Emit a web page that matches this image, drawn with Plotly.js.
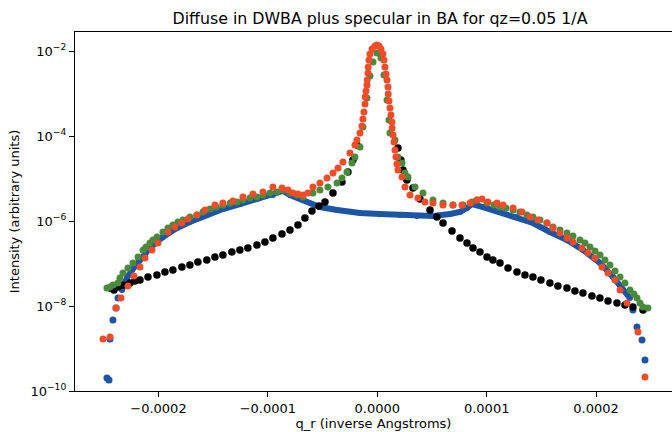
<!DOCTYPE html>
<html>
<head>
<meta charset="utf-8">
<script src="https://cdn.plot.ly/plotly-3.0.1.min.js"></script>
<style>html,body{margin:0;padding:0;background:#fff;}#chart{width:672px;height:432px;}</style>
</head>
<body>
<div id="chart"></div>
<script>
// ---------- data ----------
const titleText = 'Diffuse in DWBA plus specular in BA for qz=0.05 1/A';
const xLabel = 'q_r (inverse Angstroms)';
const yLabel = 'Intensity (arbitrary units)';

const xTickVals = [-0.0002, -0.0001, 0, 0.0001, 0.0002];
const xTickText = ['\u22120.0002', '\u22120.0001', '0.0000', '0.0001', '0.0002'];
const yTickVals = [1e-10, 1e-8, 1e-6, 1e-4, 1e-2];
const yTickText = ['10<sup>\u221210</sup>', '10<sup>\u22128</sup>', '10<sup>\u22126</sup>', '10<sup>\u22124</sup>', '10<sup>\u22122</sup>'];

// blue model: steep tails (separate dots) and the dense band
const blueTailX = [-2.471e-4, -2.452e-4, -2.443e-4, -2.416e-4, -2.388e-4, -2.370e-4, 2.337e-4, 2.374e-4, 2.420e-4, 2.447e-4];
const blueTailY = [2.02e-10, 1.82e-10, 1.67e-9, 4.69e-9, 8.97e-9, 1.54e-8, 8.05e-9, 3.21e-9, 1.58e-9, 5.36e-10];
const blueX = [-2.334e-4, -2.288e-4, -2.242e-4, -2.169e-4, -2.078e-4, -1.959e-4, -1.831e-4, -1.713e-4, -1.557e-4, -1.411e-4, -1.255e-4, -1.100e-4, -9.54e-5, -8.62e-5, -7.98e-5, -6.79e-5, -5.24e-5, -3.68e-5, -1.58e-5, 2.5e-6, 2.07e-5, 3.63e-5, 5.09e-5, 6.65e-5, 7.56e-5, 8.20e-5, 8.66e-5, 9.66e-5, 1.122e-4, 1.277e-4, 1.423e-4, 1.578e-4, 1.734e-4, 1.880e-4, 2.036e-4, 2.155e-4, 2.246e-4, 2.310e-4];
const blueY = [2.38e-8, 4.56e-8, 7.03e-8, 1.21e-7, 2.32e-7, 4.20e-7, 6.84e-7, 9.46e-7, 1.38e-6, 1.91e-6, 2.51e-6, 3.30e-6, 4.09e-6, 5.08e-6, 4.09e-6, 3.12e-6, 2.13e-6, 1.82e-6, 1.54e-6, 1.46e-6, 1.38e-6, 1.31e-6, 1.31e-6, 1.46e-6, 1.63e-6, 2.02e-6, 2.51e-6, 2.13e-6, 1.63e-6, 1.24e-6, 8.97e-7, 5.51e-7, 3.57e-7, 2.08e-7, 1.03e-7, 4.81e-8, 2.38e-8, 1.54e-8];

const blackX = [-2.443e-4, -2.407e-4, -2.370e-4, -2.325e-4, -2.261e-4, -2.215e-4, -2.169e-4, -2.096e-4, -2.014e-4, -1.941e-4, -1.868e-4, -1.786e-4, -1.713e-4, -1.640e-4, -1.558e-4, -1.484e-4, -1.411e-4, -1.329e-4, -1.256e-4, -1.183e-4, -1.100e-4, -1.027e-4, -9.54e-5, -8.71e-5, -7.98e-5, -7.25e-5, -6.61e-5, -5.97e-5, -5.33e-5, -4.78e-5, -4.05e-5, -3.23e-5, -2.68e-5, -2.23e-5, -1.86e-5, 1.89e-5, 2.16e-5, 2.35e-5, 2.71e-5, 3.26e-5, 3.90e-5, 4.82e-5, 5.45e-5, 6.01e-5, 6.83e-5, 7.56e-5, 8.20e-5, 8.75e-5, 9.39e-5, 1.003e-4, 1.057e-4, 1.122e-4, 1.195e-4, 1.277e-4, 1.350e-4, 1.423e-4, 1.496e-4, 1.578e-4, 1.651e-4, 1.734e-4, 1.807e-4, 1.880e-4, 1.962e-4, 2.035e-4, 2.109e-4, 2.191e-4, 2.264e-4, 2.337e-4, 2.429e-4];
const blackY = [2.65e-8, 2.38e-8, 2.80e-8, 3.12e-8, 3.47e-8, 3.87e-8, 4.09e-8, 4.81e-8, 5.36e-8, 6.31e-8, 7.03e-8, 8.28e-8, 9.22e-8, 1.08e-7, 1.21e-7, 1.42e-7, 1.58e-7, 1.87e-7, 2.08e-7, 2.32e-7, 2.72e-7, 3.21e-7, 3.98e-7, 4.94e-7, 6.14e-7, 8.05e-7, 1.18e-6, 1.72e-6, 2.25e-6, 2.80e-6, 4.56e-6, 8.28e-6, 1.42e-5, 2.72e-5, 6.14e-5, 5.22e-5, 2.72e-5, 1.58e-5, 9.22e-6, 5.97e-6, 3.30e-6, 1.82e-6, 1.24e-6, 8.97e-7, 5.82e-7, 3.98e-7, 3.04e-7, 2.32e-7, 1.87e-7, 1.42e-7, 1.21e-7, 1.03e-7, 7.83e-8, 6.31e-8, 5.36e-8, 4.81e-8, 4.09e-8, 3.47e-8, 2.96e-8, 2.65e-8, 2.25e-8, 2.02e-8, 1.72e-8, 1.54e-8, 1.31e-8, 1.18e-8, 1.06e-8, 9.46e-9, 8.05e-9];

const greenX = [-2.471e-4, -2.443e-4, -2.416e-4, -2.370e-4, -2.352e-4, -2.325e-4, -2.279e-4, -2.233e-4, -2.187e-4, -2.141e-4, -2.114e-4, -2.078e-4, -2.050e-4, -2.014e-4, -1.959e-4, -1.913e-4, -1.868e-4, -1.822e-4, -1.776e-4, -1.712e-4, -1.649e-4, -1.594e-4, -1.530e-4, -1.472e-4, -1.411e-4, -1.344e-4, -1.283e-4, -1.228e-4, -1.164e-4, -1.100e-4, -1.045e-4, -9.81e-5, -9.17e-5, -8.62e-5, -7.98e-5, -7.34e-5, -6.79e-5, -5.88e-5, -5.24e-5, -4.51e-5, -3.68e-5, -3.23e-5, -2.77e-5, -2.31e-5, -2.04e-5, -1.58e-5, -1.31e-5, -9.4e-6, -6.7e-6, -3.9e-6, -3e-7, 3.4e-6, 6.1e-6, 8.9e-6, 1.07e-5, 1.16e-5, 1.62e-5, 1.89e-5, 2.26e-5, 2.53e-5, 2.81e-5, 3.45e-5, 4.18e-5, 5.09e-5, 6.01e-5, 6.92e-5, 7.83e-5, 8.66e-5, 9.11e-5, 1.003e-4, 1.067e-4, 1.122e-4, 1.176e-4, 1.241e-4, 1.304e-4, 1.368e-4, 1.423e-4, 1.487e-4, 1.551e-4, 1.606e-4, 1.670e-4, 1.734e-4, 1.789e-4, 1.853e-4, 1.899e-4, 1.944e-4, 1.990e-4, 2.036e-4, 2.081e-4, 2.127e-4, 2.173e-4, 2.219e-4, 2.264e-4, 2.310e-4, 2.346e-4, 2.374e-4, 2.401e-4, 2.429e-4, 2.474e-4];
const greenY = [2.65e-8, 2.80e-8, 3.12e-8, 3.47e-8, 4.56e-8, 5.97e-8, 7.83e-8, 1.03e-7, 1.42e-7, 2.08e-7, 2.44e-7, 3.04e-7, 3.57e-7, 4.20e-7, 5.51e-7, 6.84e-7, 8.05e-7, 9.46e-7, 1.06e-6, 1.24e-6, 1.38e-6, 1.63e-6, 1.91e-6, 2.13e-6, 2.38e-6, 2.65e-6, 2.80e-6, 3.12e-6, 3.48e-6, 3.67e-6, 4.09e-6, 4.56e-6, 4.81e-6, 5.36e-6, 4.56e-6, 4.09e-6, 3.67e-6, 4.56e-6, 5.36e-6, 6.31e-6, 7.83e-6, 1.03e-5, 1.42e-5, 2.32e-5, 3.21e-5, 5.51e-5, 1.63e-4, 7.83e-4, 2.58e-3, 5.51e-3, 8.97e-3, 6.84e-3, 2.72e-3, 7.03e-4, 2.38e-4, 1.18e-4, 8.05e-5, 3.21e-5, 2.32e-5, 1.35e-5, 1.08e-5, 6.31e-6, 4.56e-6, 3.12e-6, 2.65e-6, 2.38e-6, 2.38e-6, 2.80e-6, 3.12e-6, 2.65e-6, 2.38e-6, 2.13e-6, 2.02e-6, 1.82e-6, 1.63e-6, 1.38e-6, 1.24e-6, 1.06e-6, 8.97e-7, 7.23e-7, 6.14e-7, 5.22e-7, 4.44e-7, 3.57e-7, 3.04e-7, 2.44e-7, 1.97e-7, 1.58e-7, 1.21e-7, 9.22e-8, 6.67e-8, 4.81e-8, 3.47e-8, 2.38e-8, 1.91e-8, 1.54e-8, 1.18e-8, 9.46e-9, 8.97e-9];

const redX = [-2.507e-4, -2.443e-4, -2.388e-4, -2.343e-4, -2.279e-4, -2.224e-4, -2.169e-4, -2.123e-4, -2.059e-4, -2.005e-4, -1.913e-4, -1.850e-4, -1.786e-4, -1.731e-4, -1.649e-4, -1.575e-4, -1.484e-4, -1.411e-4, -1.320e-4, -1.228e-4, -1.137e-4, -1.045e-4, -9.54e-5, -8.71e-5, -8.16e-5, -7.71e-5, -7.25e-5, -6.79e-5, -6.34e-5, -5.88e-5, -5.24e-5, -4.60e-5, -4.05e-5, -3.59e-5, -3.14e-5, -2.50e-5, -2.04e-5, -1.86e-5, -1.58e-5, -1.40e-5, -1.31e-5, -1.22e-5, -1.12e-5, -1.10e-5, -1.03e-5, -9.4e-6, -9.2e-6, -8.5e-6, -8.3e-6, -7.6e-6, -6.7e-6, -4.8e-6, -2.1e-6, -3e-7, 1.6e-6, 3.4e-6, 5.2e-6, 6.1e-6, 7.0e-6, 8.0e-6, 8.9e-6, 9.8e-6, 1.0e-5, 1.07e-5, 1.16e-5, 1.25e-5, 1.34e-5, 1.36e-5, 1.44e-5, 1.53e-5, 1.62e-5, 1.71e-5, 1.80e-5, 1.89e-5, 2.26e-5, 2.53e-5, 2.99e-5, 3.72e-5, 4.36e-5, 5.09e-5, 6.01e-5, 6.92e-5, 7.74e-5, 8.48e-5, 9.11e-5, 9.57e-5, 1.012e-4, 1.094e-4, 1.149e-4, 1.241e-4, 1.323e-4, 1.396e-4, 1.469e-4, 1.551e-4, 1.606e-4, 1.670e-4, 1.734e-4, 1.789e-4, 1.871e-4, 1.926e-4, 1.990e-4, 2.054e-4, 2.109e-4, 2.173e-4, 2.219e-4, 2.283e-4, 2.383e-4, 2.447e-4];
const redY = [1.67e-9, 1.87e-9, 8.97e-9, 1.54e-8, 2.96e-8, 5.08e-8, 8.28e-8, 1.35e-7, 2.08e-7, 3.04e-7, 5.51e-7, 7.23e-7, 8.97e-7, 1.11e-6, 1.38e-6, 1.82e-6, 2.38e-6, 2.65e-6, 2.96e-6, 3.67e-6, 4.32e-6, 4.81e-6, 6.31e-6, 5.97e-6, 5.36e-6, 4.56e-6, 4.32e-6, 4.09e-6, 4.56e-6, 6.31e-6, 7.83e-6, 1.03e-5, 1.35e-5, 1.77e-5, 2.44e-5, 3.98e-5, 6.14e-5, 8.05e-5, 1.18e-4, 1.72e-4, 2.51e-4, 3.67e-4, 5.66e-4, 8.27e-4, 1.15e-3, 1.58e-3, 2.08e-3, 3.04e-3, 4.20e-3, 6.14e-3, 8.50e-3, 1.12e-2, 1.31e-2, 1.38e-2, 1.31e-2, 1.12e-2, 8.50e-3, 6.14e-3, 4.20e-3, 2.88e-3, 2.08e-3, 1.42e-3, 9.73e-4, 6.66e-4, 4.56e-4, 3.12e-4, 2.14e-4, 1.54e-4, 1.06e-4, 7.22e-5, 4.68e-5, 3.21e-5, 2.19e-5, 1.58e-5, 1.08e-5, 6.31e-6, 4.09e-6, 3.48e-6, 2.80e-6, 2.65e-6, 2.38e-6, 2.38e-6, 2.38e-6, 2.65e-6, 3.12e-6, 3.30e-6, 2.80e-6, 2.65e-6, 2.38e-6, 2.02e-6, 1.63e-6, 1.24e-6, 1.06e-6, 8.97e-7, 6.84e-7, 5.22e-7, 3.98e-7, 3.21e-7, 2.32e-7, 1.77e-7, 1.35e-7, 8.28e-8, 5.97e-8, 4.09e-8, 2.38e-8, 1.18e-8, 2.44e-9, 2.13e-10];

// ---------- styles ----------
const cBlue = '#1d55a6', cBlack = '#000000', cGreen = '#4a8a3c', cRed = '#f04c28';
const mSize = 7;

const traces = [
  {x: blueTailX, y: blueTailY, mode: 'markers', type: 'scatter', marker: {color: cBlue, size: mSize}, hoverinfo: 'skip'},
  {x: blueX, y: blueY, mode: 'lines+markers', type: 'scatter', line: {color: cBlue, width: 6}, marker: {color: cBlue, size: 6}, hoverinfo: 'skip'},
  {x: blackX, y: blackY, mode: 'markers', type: 'scatter', marker: {color: cBlack, size: 7.5}, hoverinfo: 'skip'},
  {x: greenX, y: greenY, mode: 'markers', type: 'scatter', marker: {color: cGreen, size: mSize}, hoverinfo: 'skip'},
  {x: redX, y: redY, mode: 'markers', type: 'scatter', marker: {color: cRed, size: mSize}, hoverinfo: 'skip'}
];

const axisCommon = {
  showgrid: false, zeroline: false, showline: true, linecolor: '#000', linewidth: 1.2,
  ticks: 'outside', ticklen: 5, tickwidth: 1, tickcolor: '#000',
  tickfont: {family: 'DejaVu Sans', size: 13, color: '#000'}
};

const layout = {
  width: 672, height: 432,
  margin: {l: 75, r: 0, t: 32, b: 41, pad: 0},
  paper_bgcolor: '#fff', plot_bgcolor: '#fff',
  showlegend: false,
  font: {family: 'DejaVu Sans', size: 13, color: '#000'},
  title: {text: titleText, font: {family: 'DejaVu Sans', size: 15.8, color: '#000'},
          xref: 'container', x: 380 / 672, xanchor: 'center',
          yref: 'container', y: 1 - 18 / 432, yanchor: 'middle'},
  xaxis: Object.assign({}, axisCommon, {
    range: [-2.763e-4, 2.694e-4], mirror: true,
    tickmode: 'array', tickvals: xTickVals, ticktext: xTickText,
    title: {text: xLabel, font: {family: 'DejaVu Sans', size: 13, color: '#000'}, standoff: 3}
  }),
  yaxis: Object.assign({}, axisCommon, {
    type: 'log', range: [-10, -1.553],
    tickmode: 'array', tickvals: yTickVals, ticktext: yTickText,
    title: {text: yLabel, font: {family: 'DejaVu Sans', size: 13, color: '#000'}, standoff: 8}
  })
};

Plotly.newPlot('chart', traces, layout, {staticPlot: true, displayModeBar: false});
</script>
</body>
</html>
